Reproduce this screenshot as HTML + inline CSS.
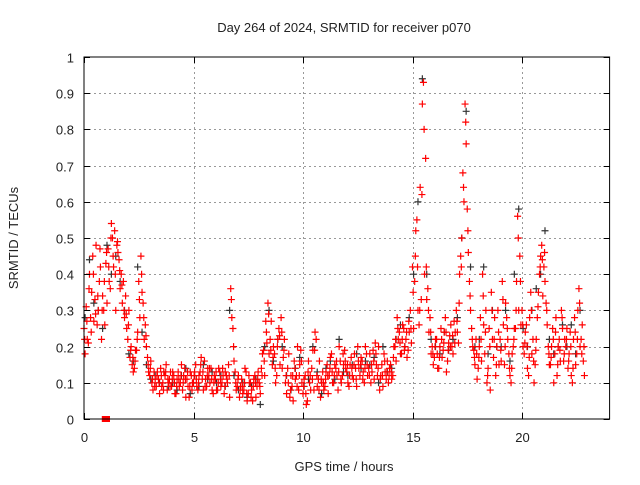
<!DOCTYPE html>
<html><head><meta charset="utf-8"><style>
body{margin:0;background:#fff}
svg text{font-family:"Liberation Sans",sans-serif;font-size:13px;fill:#222}
</style></head><body>
<svg id="c" width="640" height="480" xmlns="http://www.w3.org/2000/svg">
<rect width="640" height="480" fill="#fff"/>
<g id="grid"></g>
<g id="pts"></g>
<rect x="84" y="57" width="525.6" height="362" fill="none" stroke="#000" stroke-width="1"/>
<g id="ticks"></g>
<text x="344" y="32" text-anchor="middle">Day 264 of 2024, SRMTID for receiver p070</text>
<text x="344" y="471" text-anchor="middle">GPS time / hours</text>
<text transform="translate(18,238) rotate(-90)" text-anchor="middle">SRMTID / TECUs</text>
</svg>
<script>
const xTicks=[0,5,10,15,20];
const yTicks=[0,0.1,0.2,0.3,0.4,0.5,0.6,0.7,0.8,0.9,1];
const yTickLabels=["0","0.1","0.2","0.3","0.4","0.5","0.6","0.7","0.8","0.9","1"];
const redA=[.25,.31,.21,.28,.45,.33,.26,.38,.22,.30,
.43,.47,.36,.50,.52,.48,.44,.40,.38,.34,
.22,.17,.15,.14,.19,.38,.45,.32,.26,.17,
.12,.10,.13,.09,.11,.14,.10,.12,.08,.11,
.09,.12,.07,.13,.10,.08,.14,.11,.06,.12,
.10,.15,.08,.13,.11,.16,.09,.12,.14,.07,
.11,.08,.13,.10,.07,.12,.15,.36,.25,.13,
.09,.06,.11,.08,.13,.07,.10,.05,.12,.09,
.10,.14,.19,.27,.32,.22,.15,.18,.12,.25,
.28,.17,.10,.14,.06,.09,.16,.12,.08,.19,
.07,.12,.05,.10,.14,.08,.22,.11,.06,.13,
.09,.15,.12,.18,.10,.14,.08,.16,.12,.19,
.13,.09,.17,.11,.14,.20,.12,.16,.10,.18,
.14,.10,.19,.21,.12,.08,.15,.18,.11,.10,
.15,.12,.20,.28,.24,.18,.25,.22,.19,.30,
.42,.38,.55,.26,.33,.93,.72,.36,.28,.20,
.17,.22,.14,.25,.19,.28,.16,.23,.20,.27,
.30,.21,.45,.68,.87,.58,.38,.25,.19,.22,
.14,.28,.40,.18,.10,.25,.35,.17,.12,.30,
.22,.38,.15,.28,.18,.10,.20,.25,.56,.45,
.30,.18,.26,.12,.35,.22,.15,.28,.40,.48,
.42,.32,.20,.15,.25,.18,.12,.22,.30,.16,
.20,.14,.24,.10,.28,.18,.36,.22,.16];
const redB=[.18,.22,.40,.35,.27,.48,.30,.42,.34,.26,
.32,.38,.54,.42,.30,.46,.36,.32,.28,.25,
.30,.20,.13,.19,.24,.28,.35,.22,.20,.13,
.16,.08,.11,.13,.07,.09,.13,.15,.10,.13,
.13,.07,.11,.09,.15,.12,.06,.09,.13,.10,
.13,.09,.12,.17,.08,.11,.14,.10,.08,.12,
.08,.14,.09,.12,.13,.10,.06,.28,.16,.08,
.12,.09,.07,.14,.05,.10,.08,.11,.06,.13,
.07,.18,.12,.21,.18,.27,.20,.10,.22,.15,
.14,.22,.07,.18,.12,.05,.11,.20,.15,.10,
.11,.04,.16,.08,.19,.24,.09,.16,.10,.08,
.13,.07,.17,.10,.15,.12,.20,.10,.15,.14,
.10,.15,.12,.18,.09,.14,.17,.13,.20,.12,
.18,.13,.11,.15,.20,.12,.09,.13,.16,.14,
.11,.20,.16,.22,.18,.26,.20,.17,.24,.21,
.25,.52,.30,.64,.87,.40,.33,.24,.18,.15,
.22,.14,.20,.17,.24,.13,.21,.26,.18,.24,
.24,.40,.50,.60,.76,.46,.30,.20,.15,.11,
.20,.16,.26,.30,.14,.08,.22,.28,.20,.15,
.16,.26,.32,.22,.12,.18,.25,.38,.30,.26,
.20,.24,.14,.28,.18,.10,.22,.35,.45,.34,
.38,.26,.15,.20,.10,.28,.20,.16,.25,.22,
.25,.18,.12,.22,.15,.30,.20,.26,.12];
const redC=[.22,.27,.36,.24,.40,.29,.34,.47,.30,.38,
.46,.42,.50,.45,.40,.49,.41,.37,.30,.29,
.26,.19,.17,.16,.22,.33,.40,.28,.23,.15,
.14,.11,.09,.12,.10,.12,.08,.13,.11,.09,
.11,.10,.09,.11,.12,.10,.11,.13,.09,.08,
.12,.11,.10,.15,.13,.09,.12,.14,.11,.10,
.13,.10,.11,.14,.09,.11,.12,.33,.20,.10,
.11,.08,.09,.10,.07,.12,.06,.09,.10,.11,
.09,.12,.16,.24,.29,.19,.17,.14,.20,.23,
.24,.19,.12,.10,.08,.12,.14,.09,.12,.16,
.09,.07,.13,.12,.11,.19,.12,.08,.11,.10,
.11,.12,.14,.13,.12,.16,.13,.11,.18,.16,
.15,.12,.14,.15,.11,.16,.15,.11,.14,.15,
.12,.15,.16,.18,.14,.11,.12,.16,.13,.12,
.13,.17,.22,.25,.21,.22,.19,.24,.27,.25,
.35,.45,.42,.30,.62,.80,.42,.30,.24,.18,
.20,.18,.17,.22,.21,.24,.19,.20,.23,.21,
.27,.32,.42,.64,.82,.52,.34,.22,.17,.18,
.17,.22,.34,.24,.12,.20,.30,.22,.15,.24,
.19,.33,.20,.25,.14,.14,.22,.30,.50,.38,
.26,.21,.20,.17,.30,.16,.19,.31,.42,.44,
.46,.30,.18,.17,.22,.24,.15,.19,.28,.18,
.22,.16,.20,.14,.24,.22,.32,.18,.20];
const black=[.28,.44,.32,.30,.25,.48,.40,.45,.38,.30,.18,.16,.42,.24,.15,.11,.12,.10,.13,.09,
.10,.08,.12,.14,.07,.12,.09,.15,.11,.13,.10,.12,.09,.30,.12,.08,.10,.06,.09,.11,
.04,.20,.30,.16,.22,.20,.12,.08,.14,.17,.09,.11,.20,.13,.07,.14,.16,.11,.22,.13,
.12,.15,.18,.14,.16,.15,.17,.10,.20,.13,.14,.22,.26,.20,.28,.40,.60,.94,.40,.22,
.20,.18,.24,.19,.22,.28,.50,.85,.42,.20,.22,.42,.18,.30,.20,.20,.30,.16,.40,.58,
.25,.20,.30,.36,.40,.52,.22,.18,.20,.26,.20,.26,.18,.30];
const zeroTimes=[0.95,1.05];
const X0=84,X1=609.6,Y0=419,Y1=57,XMAX=24;
const sx=v=>X0+v/XMAX*(X1-X0), sy=v=>Y0-v*(Y0-Y1);
const NS="http://www.w3.org/2000/svg";
const grid=document.getElementById('grid'),tk=document.getElementById('ticks'),pts=document.getElementById('pts');
function ln(p,x1,y1,x2,y2,st,da){const l=document.createElementNS(NS,'line');l.setAttribute('x1',x1);l.setAttribute('y1',y1);l.setAttribute('x2',x2);l.setAttribute('y2',y2);l.setAttribute('stroke',st);if(da)l.setAttribute('stroke-dasharray',da);p.appendChild(l);return l;}
function tx(x,y,s,a){const t=document.createElementNS(NS,'text');t.setAttribute('x',x);t.setAttribute('y',y);t.setAttribute('text-anchor',a);t.textContent=s;tk.appendChild(t);return t;}
xTicks.forEach(v=>{const x=Math.round(sx(v))+.5;
 if(v>0){const g=ln(grid,x,Y1,x,Y0,'#999','2,3');}
 ln(tk,x,Y0,x,Y0-6,'#000');ln(tk,x,Y1,x,Y1+6,'#000');
 const t=tx(x,Y0+23,String(v),'middle');});
yTicks.forEach((v,i)=>{const y=Math.round(sy(v))+.5;
 if(v>0&&v<1){const g=ln(grid,X0,y,X1,y,'#999','2,3');}
 ln(tk,X0,y,X0+6,y,'#000');ln(tk,X1,y,X1-6,y,'#000');
 const t=tx(X0-10,y+5,yTickLabels[i],'end');});
function plus(x,y,c,name){const p=document.createElementNS(NS,'path');
 p.setAttribute('d',`M${x-3.5} ${y}h7M${x} ${y-3.5}v7`);p.setAttribute('stroke',c);p.setAttribute('stroke-width','1.2');
 
 
 pts.appendChild(p);}
black.forEach((v,i)=>plus(sx(i*0.2+0.05),sy(v),'#333','black-point'));
redA.forEach((v,i)=>plus(sx(i*0.1),sy(v),'#f00','red-point'));
redB.forEach((v,i)=>plus(sx(i*0.1+0.05),sy(v),'#f00','red-point'));
redC.forEach((v,i)=>plus(sx(i*0.1+0.03),sy(v),'#f00','red-point'));
zeroTimes.forEach(t=>{const r=document.createElementNS(NS,'rect');r.setAttribute('x',sx(t)-3);r.setAttribute('y',Y0-3);r.setAttribute('width',6);r.setAttribute('height',6);r.setAttribute('fill','#f00');
 
 
 pts.appendChild(r);});
</script>
</body></html>
